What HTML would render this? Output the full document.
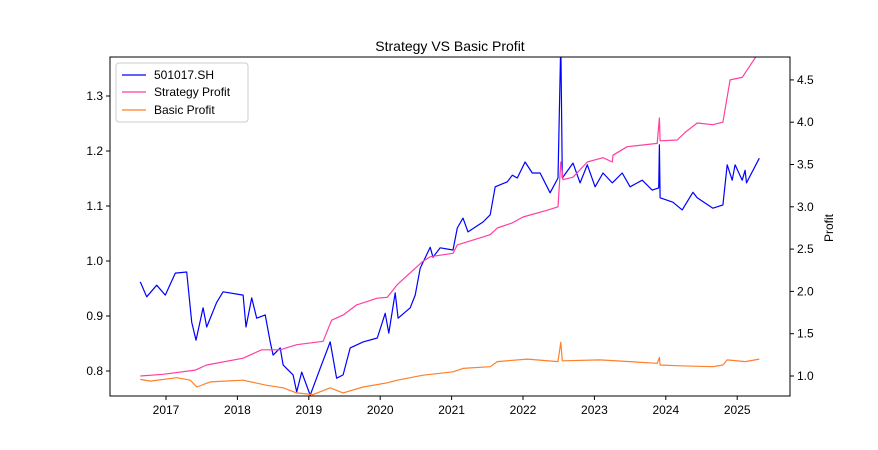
<!DOCTYPE html>
<html><head><meta charset="utf-8"><style>
body{margin:0;background:#fff;}
svg{display:block;font-family:"Liberation Sans","DejaVu Sans",sans-serif;}
</style></head><body>
<svg id="chart" width="878" height="450" viewBox="0 0 878 450" xmlns="http://www.w3.org/2000/svg">
<defs><clipPath id="plotclip"><rect x="110" y="57" width="680" height="339"/></clipPath></defs>
<rect width="878" height="450" fill="#fff"/>
<text x="450" y="51" text-anchor="middle" font-size="14">Strategy VS Basic Profit</text>
<g id="series" clip-path="url(#plotclip)"></g>
<rect x="110" y="57" width="680" height="339" fill="none" stroke="#000" stroke-width="1"/>
<g id="axes"></g>
<text transform="translate(833,228) rotate(-90)" text-anchor="middle" font-size="12">Profit</text>
<g>
<rect x="116" y="63" width="132" height="59" rx="3" fill="#fff" stroke="#ccc"/>
<g><line x1="122" y1="75" x2="146" y2="75" stroke="#0000ff" stroke-width="1.2"/><text x="154" y="79" font-size="12">501017.SH</text></g>
<g><line x1="122" y1="92" x2="146" y2="92" stroke="#ff3fa0" stroke-width="1.2"/><text x="154" y="96" font-size="12">Strategy Profit</text></g>
<g><line x1="122" y1="110" x2="146" y2="110" stroke="#ff7f2a" stroke-width="1.2"/><text x="154" y="114" font-size="12">Basic Profit</text></g>
</g>
</svg>
<script>
const priceDates=[2016.64,2016.73,2016.87,2016.99,2017.13,2017.29,2017.36,2017.42,2017.52,2017.57,2017.71,2017.80,2018.08,2018.12,2018.20,2018.27,2018.39,2018.46,2018.50,2018.60,2018.64,2018.78,2018.83,2018.90,2019.02,2019.16,2019.30,2019.39,2019.48,2019.58,2019.76,2019.96,2020.07,2020.12,2020.21,2020.25,2020.42,2020.49,2020.56,2020.70,2020.74,2020.84,2021.02,2021.08,2021.16,2021.23,2021.44,2021.54,2021.61,2021.78,2021.85,2021.92,2022.03,2022.13,2022.24,2022.38,2022.49,2022.53,2022.55,2022.70,2022.80,2022.90,2023.01,2023.12,2023.25,2023.39,2023.50,2023.67,2023.81,2023.90,2023.91,2023.92,2024.10,2024.23,2024.38,2024.44,2024.66,2024.80,2024.86,2024.93,2024.97,2025.07,2025.11,2025.13,2025.31];
const priceValues=[0.962,0.935,0.956,0.938,0.978,0.98,0.889,0.856,0.915,0.88,0.925,0.944,0.938,0.88,0.933,0.896,0.902,0.853,0.829,0.842,0.811,0.793,0.762,0.798,0.756,0.805,0.853,0.787,0.793,0.842,0.853,0.86,0.905,0.869,0.942,0.896,0.915,0.938,0.987,1.025,1.007,1.024,1.02,1.06,1.078,1.053,1.071,1.084,1.135,1.144,1.156,1.151,1.18,1.16,1.16,1.124,1.151,1.40,1.151,1.178,1.142,1.175,1.135,1.16,1.142,1.16,1.135,1.147,1.129,1.133,1.211,1.115,1.107,1.093,1.125,1.115,1.096,1.102,1.175,1.147,1.175,1.147,1.165,1.142,1.187];
const stratDates=[2016.64,2016.96,2017.41,2017.57,2018.08,2018.34,2018.60,2018.83,2019.20,2019.32,2019.48,2019.67,2019.96,2020.10,2020.24,2020.59,2020.70,2021.02,2021.08,2021.54,2021.64,2021.85,2022.00,2022.34,2022.49,2022.53,2022.56,2022.70,2022.90,2023.12,2023.25,2023.26,2023.46,2023.88,2023.91,2023.92,2024.16,2024.27,2024.44,2024.66,2024.80,2024.90,2025.07,2025.25,2025.29];
const stratValues=[1.0,1.02,1.07,1.13,1.21,1.31,1.31,1.37,1.41,1.66,1.72,1.84,1.92,1.93,2.08,2.35,2.41,2.45,2.55,2.67,2.75,2.81,2.88,2.96,3.0,3.53,3.32,3.35,3.53,3.58,3.53,3.61,3.71,3.75,4.05,3.78,3.79,3.88,3.99,3.97,4.0,4.5,4.53,4.76,4.8];
const basicDates=[2016.64,2016.78,2017.15,2017.34,2017.43,2017.62,2018.08,2018.41,2018.64,2018.83,2019.06,2019.30,2019.48,2019.76,2020.10,2020.24,2020.60,2021.02,2021.16,2021.54,2021.64,2022.06,2022.49,2022.53,2022.55,2023.08,2023.88,2023.91,2023.92,2024.20,2024.66,2024.80,2024.86,2025.11,2025.31];
const basicValues=[0.96,0.94,0.98,0.95,0.87,0.93,0.95,0.89,0.86,0.80,0.78,0.86,0.80,0.87,0.92,0.95,1.01,1.05,1.09,1.11,1.17,1.2,1.17,1.40,1.18,1.19,1.15,1.22,1.13,1.12,1.11,1.13,1.19,1.17,1.2];
const xTicks=[2017,2018,2019,2020,2021,2022,2023,2024,2025];
const leftTicks=[0.8,0.9,1.0,1.1,1.2,1.3];
const rightTicks=[1.0,1.5,2.0,2.5,3.0,3.5,4.0,4.5];

const NS="http://www.w3.org/2000/svg";
const xScale=y=>166+(y-2017)*71.4;
const yLeft=v=>371-(v-0.8)*550;
const yRight=v=>376-(v-1)*84.6;
function mk(tag,attrs,parent){const e=document.createElementNS(NS,tag);for(const k in attrs)e.setAttribute(k,attrs[k]);parent.appendChild(e);return e;}
const series=document.getElementById('series');
const axes=document.getElementById('axes');
function line(dates,vals,ys,color,name){
  const d=dates.map((t,i)=>(i?'L':'M')+xScale(t).toFixed(1)+','+ys(vals[i]).toFixed(1)).join('');
  const p=mk('path',{d:d,fill:'none',stroke:color,'stroke-width':1.2,'stroke-linejoin':'round'},series);
  
  
}
line(priceDates,priceValues,yLeft,'#0000ff','price-line-501017');
line(stratDates,stratValues,yRight,'#ff3fa0','strategy-profit-line');
line(basicDates,basicValues,yRight,'#ff7f2a','basic-profit-line');
xTicks.forEach(t=>{
  const x=xScale(t);
  mk('line',{x1:x,y1:396,x2:x,y2:400,stroke:'#000'},axes);
  const tx=mk('text',{x:x,y:414,'text-anchor':'middle','font-size':12},axes);
  tx.textContent=t;
  
  
});
leftTicks.forEach(v=>{
  const y=yLeft(v);
  mk('line',{x1:106,y1:y,x2:110,y2:y,stroke:'#000'},axes);
  const tx=mk('text',{x:103,y:y+4,'text-anchor':'end','font-size':12},axes);
  tx.textContent=v.toFixed(1);
  
  
});
rightTicks.forEach(v=>{
  const y=yRight(v);
  mk('line',{x1:790,y1:y,x2:794,y2:y,stroke:'#000'},axes);
  const tx=mk('text',{x:797,y:y+4,'text-anchor':'start','font-size':12},axes);
  tx.textContent=v.toFixed(1);
  
  
});
</script>
</body></html>
